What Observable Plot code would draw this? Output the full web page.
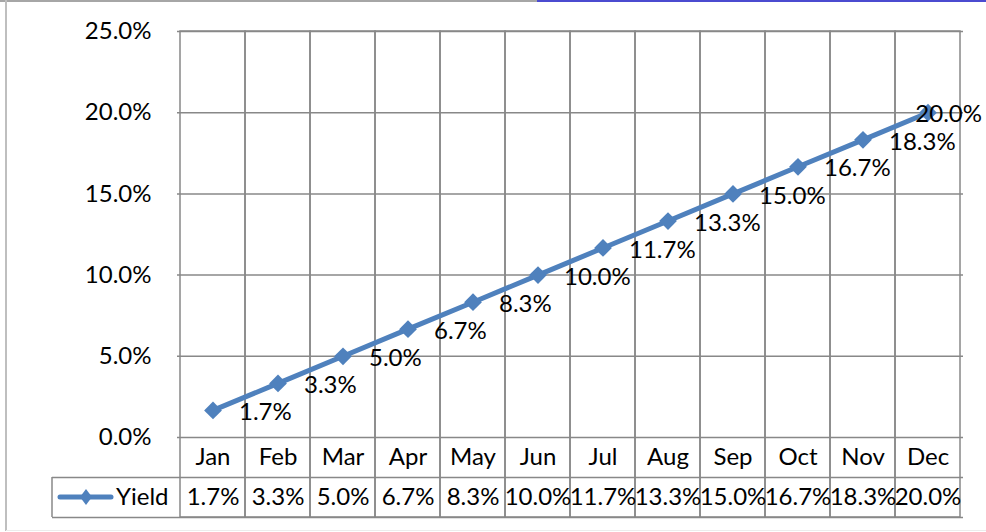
<!DOCTYPE html>
<html>
<head>
<meta charset="utf-8">
<script src="https://cdn.jsdelivr.net/npm/d3@7"></script>
<script src="https://cdn.jsdelivr.net/npm/@observablehq/plot@0.6"></script>
<style>
  html, body { margin: 0; padding: 0; background: #fff; }
  #chart { width: 986px; height: 532px; }
</style>
</head>
<body>
<div id="chart"></div>
<script>
const months = ["Jan", "Feb", "Mar", "Apr", "May", "Jun", "Jul", "Aug", "Sep", "Oct", "Nov", "Dec"];
const yieldValues = [0.0167, 0.0333, 0.05, 0.0667, 0.0833, 0.1, 0.1167, 0.1333, 0.15, 0.1667, 0.1833, 0.2];
const yTicks = [0, 0.05, 0.1, 0.15, 0.2, 0.25];
const seriesName = "Yield";

const data = months.map((m, i) => ({month: m, value: yieldValues[i]}));
const fmt = d3.format(".1%");
const gray = "#888888";
const blue = "#4F81BD";
const font = "Lato, 'Open Sans', sans-serif";

const plot = Plot.plot({
  width: 986,
  height: 532,
  marginLeft: 177,
  marginRight: 23,
  marginTop: 31,
  marginBottom: 95,
  style: {fontFamily: font, fontSize: "24px", color: "black", background: "white", overflow: "visible"},
  x: {type: "band", domain: months, padding: 0, axis: null},
  y: {domain: [0, 0.25], axis: null},
  marks: [
    Plot.ruleY(yTicks, {stroke: gray, strokeWidth: 1.5, strokeOpacity: 1}),
    Plot.barY(months, {x: d => d, y1: 0, y2: 0.25, insetBottom: -80, fill: "none", stroke: gray, strokeWidth: 1.5}),
    Plot.ruleY([0], {dy: 40, insetLeft: -125, stroke: gray, strokeWidth: 1.5}),
    Plot.ruleY([0], {dy: 80, insetLeft: -125, stroke: gray, strokeWidth: 1.5}),
    Plot.text(yTicks, {y: d => d, frameAnchor: "left", lineAnchor: "middle", textAnchor: "end", dx: -26, text: d => fmt(d), fill: "black"}),
    Plot.text(months, {x: d => d, frameAnchor: "bottom", lineAnchor: "middle", dy: 20, text: d => d, fill: "black"}),
    Plot.text(data, {x: "month", frameAnchor: "bottom", lineAnchor: "middle", dy: 60, text: d => fmt(d.value), fill: "black"}),
    Plot.text([seriesName], {frameAnchor: "bottom-left", lineAnchor: "middle", textAnchor: "end", dx: -9, dy: 60, text: d => d, fill: "black"}),
    Plot.line(data, {x: "month", y: "value", stroke: blue, strokeWidth: 5}),
    Plot.dot(data, {x: "month", y: "value", symbol: "diamond2", r: 8, fill: blue, stroke: "none"}),
    Plot.text(data.slice(0, -1), {x: "month", y: "value", text: d => fmt(d.value), lineAnchor: "middle", textAnchor: "start", dx: 26, dy: 2, fill: "black"}),
    Plot.text(data.slice(-1), {x: "month", y: "value", text: d => fmt(d.value), lineAnchor: "middle", textAnchor: "end", dx: 54, dy: 2, fill: "black"})
  ]
});

document.getElementById("chart").appendChild(plot);

// Chart-area decorations and legend key (not data)
const svg = d3.select(plot);
const deco = svg.append("g");
deco.append("line").attr("x1", 0).attr("x2", 537).attr("y1", 1).attr("y2", 1).attr("stroke", "#a6a6a6").attr("stroke-width", 2);
deco.append("line").attr("x1", 537).attr("x2", 986).attr("y1", 1).attr("y2", 1).attr("stroke", "#4b4bd0").attr("stroke-width", 2);
deco.append("line").attr("x1", 6).attr("x2", 6).attr("y1", 0).attr("y2", 531).attr("stroke", "#bfbfbf").attr("stroke-width", 2);
deco.append("line").attr("x1", 6).attr("x2", 986).attr("y1", 530.5).attr("y2", 530.5).attr("stroke", "#ececec").attr("stroke-width", 1);
deco.append("line").attr("x1", 52).attr("x2", 52).attr("y1", 477).attr("y2", 517).attr("stroke", gray).attr("stroke-width", 1.5);
deco.append("line").attr("x1", 60).attr("x2", 111).attr("y1", 497).attr("y2", 497).attr("stroke", blue).attr("stroke-width", 5).attr("stroke-linecap", "round");
deco.append("path").attr("d", "M86,489L92,497L86,505L80,497Z").attr("fill", blue);
</script>
</body>
</html>
